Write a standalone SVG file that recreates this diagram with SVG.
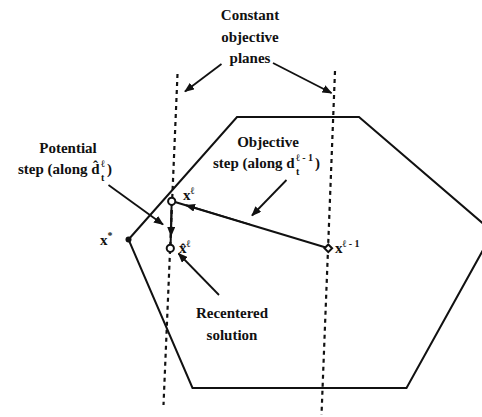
<svg xmlns="http://www.w3.org/2000/svg" width="482" height="417" viewBox="0 0 482 417">
<style>
.t{font-family:"Liberation Serif","Times New Roman",serif;font-weight:bold;font-size:15px;fill:#111;}
.c{text-anchor:middle;}
.sm{font-size:10px;}
.edge{fill:none;stroke:#111;stroke-width:2;}
.dot{fill:none;stroke:#111;stroke-width:2.2;stroke-dasharray:4 4;}
.arr{fill:none;stroke:#111;stroke-width:1.8;marker-end:url(#ah);}
.pt{fill:#fff;stroke:#111;stroke-width:2;}
</style>
<defs>
<marker id="ah" viewBox="0 0 10 8" refX="9" refY="4" markerWidth="10" markerHeight="8" markerUnits="userSpaceOnUse" orient="auto">
<path d="M0,0 L10,4 L0,8 Z" fill="#111"/>
</marker>
</defs>
<g id="polytope">
<polygon class="edge" points="128.5,239.5 237,117 359,117 493,232 406.5,388 192.5,388"/>
</g>
<g id="planes">
<line class="dot" x1="177.5" y1="74" x2="163.5" y2="405"/>
<line class="dot" x1="335" y1="71" x2="321.5" y2="415"/>
</g>
<g id="connectors">
<line class="arr" x1="221.5" y1="64" x2="185" y2="91.5"/>
<line class="arr" x1="273" y1="63" x2="331.5" y2="93"/>
<line class="arr" x1="286.5" y1="180" x2="252" y2="215.5"/>
<line class="arr" x1="108.5" y1="185" x2="163" y2="224.5"/>
<line class="arr" x1="219" y1="295" x2="178.5" y2="253.5"/>
<line class="edge" x1="325" y1="247.3" x2="175" y2="202"/>
<line class="arr" x1="250" y1="224.5" x2="186" y2="205.2"/>
<line class="edge" x1="171.6" y1="204.5" x2="170.6" y2="245"/>
<line class="arr" x1="171.6" y1="210" x2="171" y2="236"/>
</g>
<g id="x-star">
<circle cx="128.5" cy="239.5" r="3" fill="#111"/>
<text class="t" x="100" y="245">x<tspan class="sm" dy="-6">*</tspan></text>
</g>
<g id="x-l">
<circle class="pt" cx="171.7" cy="201.3" r="3.6"/>
<text class="t" x="183" y="200">x<tspan class="sm" dy="-6">ℓ</tspan></text>
</g>
<g id="x-hat-l">
<circle class="pt" cx="170.3" cy="248.3" r="3.6"/>
<text class="t" x="179" y="253">x̂<tspan class="sm" dy="-6">ℓ</tspan></text>
</g>
<g id="x-l-1">
<polygon class="pt" points="328.3,244.5 332.1,248.3 328.3,252.1 324.5,248.3"/>
<text class="t" x="335" y="253">x<tspan class="sm" dy="-6">ℓ - 1</tspan></text>
</g>
<g id="label-planes">
<text class="t c" x="250" y="20">Constant</text>
<text class="t c" x="250" y="42">objective</text>
<text class="t c" x="250" y="63">planes</text>
</g>
<g id="label-objective">
<text class="t c" x="268" y="147">Objective</text>
<text class="t" x="213" y="168">step (along d</text>
<text class="t sm" x="296" y="161">ℓ - 1</text>
<text class="t sm" x="296" y="175">t</text>
<text class="t" x="315" y="168">)</text>
</g>
<g id="label-potential">
<text class="t c" x="68" y="153">Potential</text>
<text class="t" x="18" y="174">step (along d̂</text>
<text class="t sm" x="101" y="167">ℓ</text>
<text class="t sm" x="101" y="181">t</text>
<text class="t" x="107" y="174">)</text>
</g>
<g id="label-recentered">
<text class="t c" x="232" y="318">Recentered</text>
<text class="t c" x="232" y="340">solution</text>
</g>
</svg>
